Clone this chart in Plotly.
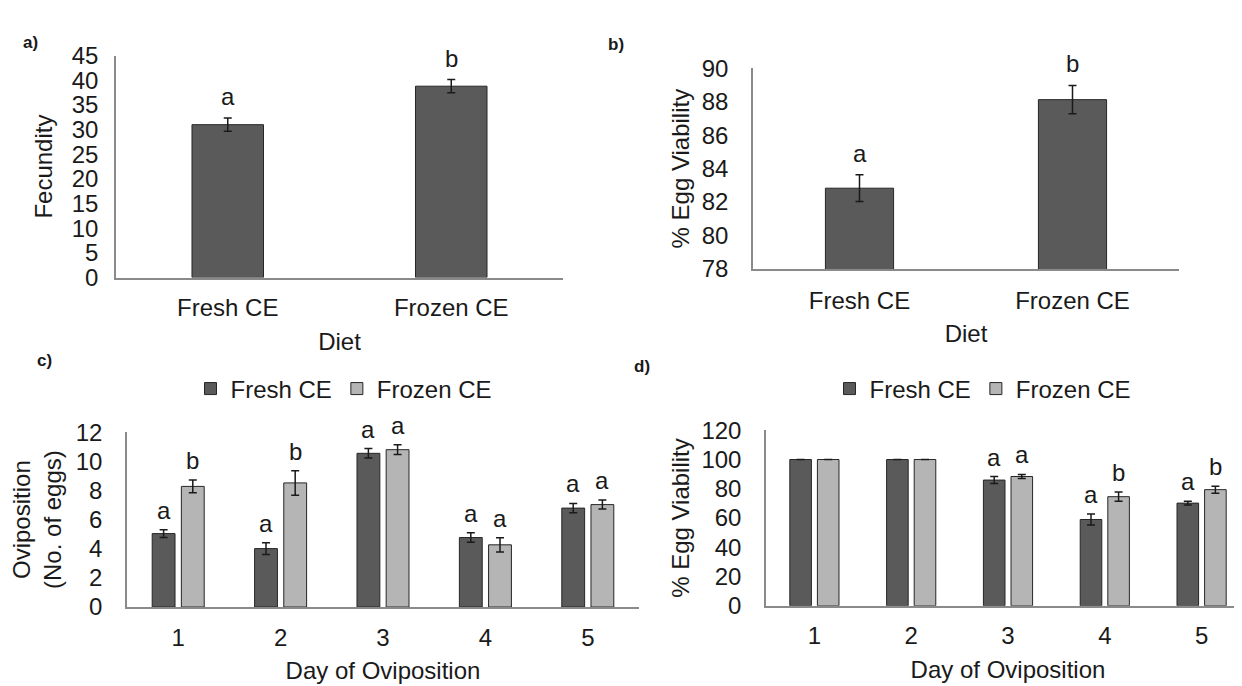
import plotly.graph_objects as go

# ---------------- data ----------------
diets = ["Fresh CE", "Frozen CE"]
fecundity = [31.0, 38.8]
fecundity_err = [1.35, 1.35]
fecundity_letters = ["a", "b"]

egg_viability = [82.83, 88.13]
egg_viability_err = [0.80, 0.85]
egg_viability_letters = ["a", "b"]

days = ["1", "2", "3", "4", "5"]
series_names = ["Fresh CE", "Frozen CE"]
ovi_fresh = [5.04, 4.01, 10.55, 4.77, 6.79]
ovi_fresh_err = [0.27, 0.40, 0.33, 0.33, 0.32]
ovi_frozen = [8.28, 8.52, 10.80, 4.27, 7.03]
ovi_frozen_err = [0.44, 0.84, 0.33, 0.49, 0.31]
ovi_fresh_letters = ["a", "a", "a", "a", "a"]
ovi_frozen_letters = ["b", "b", "a", "a", "a"]

via_fresh = [100, 100, 85.96, 59.0, 70.2]
via_fresh_err = [None, None, 2.4, 3.8, 1.3]
via_frozen = [100, 100, 88.4, 74.6, 79.4]
via_frozen_err = [None, None, 1.4, 3.2, 2.4]
via_fresh_letters = ["", "", "a", "a", "a"]
via_frozen_letters = ["", "", "a", "b", "b"]

# ---------------- style ----------------
FONT = "Liberation Sans, Arial, sans-serif"
TXT = "#1a1a1a"
DARK = "#5a5a5a"
LIGHT = "#b5b5b5"
EDGE = "#262626"
AXIS = "#8a8a8a"
FS = 24

fig = go.Figure()

single_w = 0.32
grp_w = 0.223
grp_gap = 0.062


def err(arr):
    return dict(type="data", array=arr, visible=True, color="#1a1a1a",
                thickness=1.5, width=4)


# panel a
fig.add_trace(go.Bar(x=diets, y=fecundity, width=single_w, offset=-single_w / 2,
                     marker=dict(color=DARK, line=dict(color=EDGE, width=1)),
                     error_y=err(fecundity_err), showlegend=False,
                     xaxis="x", yaxis="y"))
# panel b
fig.add_trace(go.Bar(x=diets, y=egg_viability, width=single_w, offset=-single_w / 2,
                     marker=dict(color=DARK, line=dict(color=EDGE, width=1)),
                     error_y=err(egg_viability_err), showlegend=False,
                     xaxis="x2", yaxis="y2"))
# panel c
fig.add_trace(go.Bar(x=days, y=ovi_fresh, name=series_names[0], width=grp_w,
                     offset=-grp_w - grp_gap / 2,
                     marker=dict(color=DARK, line=dict(color=EDGE, width=1)),
                     error_y=err(ovi_fresh_err), legend="legend",
                     xaxis="x3", yaxis="y3"))
fig.add_trace(go.Bar(x=days, y=ovi_frozen, name=series_names[1], width=grp_w,
                     offset=grp_gap / 2,
                     marker=dict(color=LIGHT, line=dict(color=EDGE, width=1)),
                     error_y=err(ovi_frozen_err), legend="legend",
                     xaxis="x3", yaxis="y3"))
# panel d
fig.add_trace(go.Bar(x=days, y=via_fresh, name=series_names[0], width=grp_w,
                     offset=-grp_w - grp_gap / 2,
                     marker=dict(color=DARK, line=dict(color=EDGE, width=1)),
                     error_y=err(via_fresh_err), legend="legend2",
                     xaxis="x4", yaxis="y4"))
fig.add_trace(go.Bar(x=days, y=via_frozen, name=series_names[1], width=grp_w,
                     offset=grp_gap / 2,
                     marker=dict(color=LIGHT, line=dict(color=EDGE, width=1)),
                     error_y=err(via_frozen_err), legend="legend2",
                     xaxis="x4", yaxis="y4"))

annotations = []


def add_letters(cats, vals, errs, letters, dx, xref, yref, yshift=4):
    for i, (c, v, e, t) in enumerate(zip(cats, vals, errs, letters)):
        if not t:
            continue
        annotations.append(dict(x=i + dx, y=v + (e or 0), xref=xref, yref=yref,
                                text=t, showarrow=False, yanchor="bottom",
                                yshift=yshift,
                                font=dict(size=FS, family=FONT, color=TXT)))


add_letters(diets, fecundity, fecundity_err, fecundity_letters, 0, "x", "y", 6)
add_letters(diets, egg_viability, egg_viability_err, egg_viability_letters, 0, "x2", "y2", 6)
cc = grp_w / 2 + grp_gap / 2
add_letters(days, ovi_fresh, ovi_fresh_err, ovi_fresh_letters, -cc, "x3", "y3")
add_letters(days, ovi_frozen, ovi_frozen_err, ovi_frozen_letters, cc, "x3", "y3")
add_letters(days, via_fresh, via_fresh_err, via_fresh_letters, -cc, "x4", "y4")
add_letters(days, via_frozen, via_frozen_err, via_frozen_letters, cc, "x4", "y4")

for txt, px, py in [("a)", 22, 21), ("b)", 608, 23), ("c)", 36, 352), ("d)", 634, 359)]:
    annotations.append(dict(x=px / 1242, y=1 - py / 686, xref="paper", yref="paper",
                            text="<b>%s</b>" % txt, showarrow=False,
                            xanchor="center", yanchor="middle",
                            font=dict(size=17, family=FONT, color=TXT)))

W, H = 1242, 686


def xax(domain, n, title, anchor, lab_off=8, title_off=13):
    return dict(domain=domain, anchor=anchor, type="category", range=[-0.5, n - 0.5],
                showline=True, linecolor=AXIS, linewidth=1.5, ticks="",
                showgrid=False, zeroline=False, ticklabelstandoff=lab_off,
                tickfont=dict(size=FS, family=FONT, color=TXT),
                title=dict(text=title, standoff=title_off,
                           font=dict(size=FS, family=FONT, color=TXT)))


def yax(domain, rng, dtick, title, anchor, standoff_lab, standoff_title):
    return dict(domain=domain, anchor=anchor, range=rng, dtick=dtick,
                showline=True, linecolor=AXIS, linewidth=1.5, ticks="",
                showgrid=False, zeroline=False, ticklabelstandoff=standoff_lab,
                tickfont=dict(size=FS, family=FONT, color=TXT),
                title=dict(text=title, standoff=standoff_title,
                           font=dict(size=FS, family=FONT, color=TXT)))


fig.update_layout(
    width=W, height=H, margin=dict(l=0, r=0, t=0, b=0),
    paper_bgcolor="white", plot_bgcolor="white",
    barmode="overlay",
    font=dict(family=FONT, size=FS, color=TXT),
    xaxis=xax([108 / W, 555 / W], 2, "Diet", "y"),
    yaxis=yax([1 - 266 / H, 1 - 35 / H], [0, 45], 5, "Fecundity", "x", 11, 12),
    xaxis2=xax([745 / W, 1171 / W], 2, "Diet", "y2", 10, 12),
    yaxis2=yax([1 - 257 / H, 1 - 48.3 / H], [78, 90], 2, "% Egg Viability", "x2", 18, 5),
    xaxis3=xax([119 / W, 631 / W], 5, "Day of Oviposition", "y3"),
    yaxis3=yax([1 - 609 / H, 1 - 427 / H], [0, 12], 2, "Oviposition<br>(No. of eggs)", "x3", 18, 8),
    xaxis4=xax([758 / W, 1.0], 5, "Day of Oviposition", "y4"),
    yaxis4=yax([1 - 607.7 / H, 1 - 425 / H], [0, 120], 20, "% Egg Viability", "x4", 18, 5),
    legend=dict(orientation="h", x=336 / W, y=1 - 382 / H, xanchor="center", yanchor="middle",
                font=dict(size=FS, family=FONT, color=TXT), bgcolor="rgba(0,0,0,0)",
                itemwidth=30, traceorder="normal"),
    legend2=dict(orientation="h", x=975 / W, y=1 - 382 / H, xanchor="center", yanchor="middle",
                 font=dict(size=FS, family=FONT, color=TXT), bgcolor="rgba(0,0,0,0)",
                 itemwidth=30, traceorder="normal"),
    annotations=annotations,
)

fig.write_html("out.html")
